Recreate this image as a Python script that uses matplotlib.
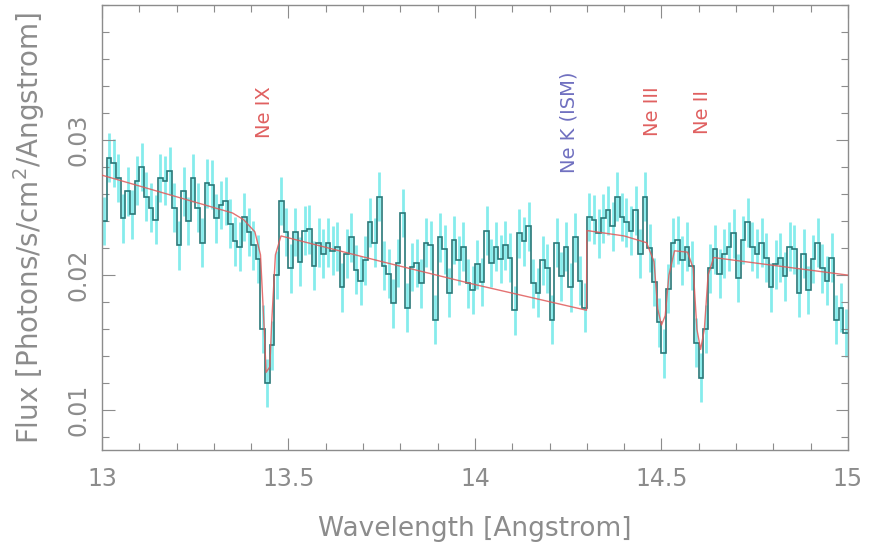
import numpy as np
import matplotlib as mpl
mpl.use('Agg')
import matplotlib.pyplot as plt
from matplotlib.ticker import MultipleLocator

# binned spectrum, 0.0125 A bins starting at 13.0 A
bin_lo = 13.0
bin_width = 0.0125
flux = [
    0.0240, 0.0287, 0.0283, 0.0272, 0.0242, 0.0262, 0.0245, 0.0270, 0.0280, 0.0258,
    0.0250, 0.0241, 0.0272, 0.0270, 0.0277, 0.0250, 0.0222, 0.0262, 0.0240, 0.0272,
    0.0250, 0.0224, 0.0268, 0.0267, 0.0242, 0.0252, 0.0255, 0.0238, 0.0225, 0.0221,
    0.0243, 0.0232, 0.0222, 0.0212, 0.0160, 0.0120, 0.0148, 0.0200, 0.0255, 0.0232,
    0.0205, 0.0232, 0.0210, 0.0233, 0.0234, 0.0207, 0.0224, 0.0216, 0.0224, 0.0218,
    0.0221, 0.0191, 0.0216, 0.0228, 0.0204, 0.0196, 0.0211, 0.0239, 0.0224, 0.0258,
    0.0207, 0.0201, 0.0179, 0.0209, 0.0246, 0.0176, 0.0206, 0.0209, 0.0194, 0.0224,
    0.0222, 0.0167, 0.0228, 0.0219, 0.0187, 0.0226, 0.0211, 0.0221, 0.0194, 0.0189,
    0.0208, 0.0195, 0.0233, 0.0209, 0.0221, 0.0212, 0.0222, 0.0213, 0.0174, 0.0231,
    0.0225, 0.0236, 0.0194, 0.0187, 0.0211, 0.0205, 0.0167, 0.0224, 0.0199, 0.0221,
    0.0191, 0.0228, 0.0196, 0.0176, 0.0243, 0.0241, 0.0231, 0.0242, 0.0248, 0.0236,
    0.0258, 0.0243, 0.0239, 0.0233, 0.0248, 0.0216, 0.0258, 0.0220, 0.0195, 0.0165,
    0.0142, 0.0190, 0.0224, 0.0226, 0.0211, 0.0221, 0.0207, 0.0150, 0.0124, 0.0160,
    0.0205, 0.0219, 0.0201, 0.0216, 0.0221, 0.0231, 0.0198, 0.0226, 0.0239, 0.0221,
    0.0216, 0.0224, 0.0213, 0.0191, 0.0208, 0.0213, 0.0199, 0.0221, 0.0219, 0.0187,
    0.0216, 0.0189, 0.0212, 0.0224, 0.0205, 0.0196, 0.0213, 0.0167, 0.0176, 0.0157,
]
flux_err = 0.0018

# model curve (continuum + edge + absorption lines)
model_wave = [13.00, 13.20, 13.35, 13.38, 13.41, 13.425, 13.435, 13.44, 13.45, 13.455,
              13.465, 13.48, 13.75, 14.00, 14.299, 14.30, 14.40, 14.46, 14.48, 14.49,
              14.50, 14.51, 14.52, 14.535, 14.57, 14.585, 14.595, 14.605, 14.615, 14.625,
              14.64, 15.00]
model_flux = [0.0274, 0.0258, 0.0246, 0.0241, 0.0232, 0.0215, 0.0160, 0.0128, 0.0132, 0.0165,
              0.0215, 0.0229, 0.0210, 0.0193, 0.0174, 0.0233, 0.0229, 0.0224, 0.0210, 0.0175,
              0.0163, 0.0170, 0.0200, 0.0218, 0.0217, 0.0205, 0.0160, 0.0145, 0.0160, 0.0200,
              0.0213, 0.0200]

line_labels = ["Ne IX", "Ne K (ISM)", "Ne III", "Ne II"]
line_pos = [13.435, 14.252, 14.475, 14.61]
line_ypos = [0.0321, 0.0313, 0.0321, 0.0321]
line_colors = ["#e06060", "#7070c0", "#e06060", "#e06060"]

flux = np.array(flux)
edges = bin_lo + bin_width * np.arange(len(flux) + 1)
centers = 0.5 * (edges[:-1] + edges[1:])

grey = "#8c8c8c"
plt.rcParams['font.family'] = ['DejaVu Sans']

fig = plt.figure(figsize=(8.76, 5.48), dpi=100)
ax = fig.add_axes([0.1164, 0.1788, 0.8516, 0.8121])

ax.errorbar(centers, flux, yerr=flux_err, fmt='none', ecolor="#5ee6e6",
            elinewidth=2.0, alpha=0.75, zorder=1)
ax.stairs(flux, edges, baseline=None, color="#2a7878", lw=1.2, zorder=2)
ax.plot(model_wave, model_flux, color="#e05a5a", lw=1.0, alpha=0.85, zorder=3)

for lab, xp, yp, c in zip(line_labels, line_pos, line_ypos, line_colors):
    ax.text(xp, yp, lab, rotation=90, color=c, fontsize=14,
            ha='center', va='center')

ax.set_xlim(13, 15)
ax.set_ylim(0.00705, 0.0400)
ax.xaxis.set_minor_locator(MultipleLocator(0.1))
ax.yaxis.set_minor_locator(MultipleLocator(0.002))
ax.set_xticks([13, 13.5, 14, 14.5, 15])
ax.set_xticklabels(["13", "13.5", "14", "14.5", "15"])
ax.set_yticks([0.01, 0.02, 0.03])
ax.set_yticklabels(["0.01", "0.02", "0.03"])

for s in ax.spines.values():
    s.set_color(grey)
    s.set_linewidth(1.0)
ax.tick_params(which='both', direction='in', top=True, right=True, colors=grey,
               labelcolor=grey, labelsize=17)
ax.tick_params(which='major', length=9, width=0.8)
ax.tick_params(which='minor', length=5, width=0.8)
ax.tick_params(axis='x', pad=12)
ax.tick_params(axis='y', pad=8)
for t in ax.get_yticklabels():
    t.set_rotation(90)
    t.set_va('center')

ax.set_xlabel("Wavelength [Angstrom]", color=grey, fontsize=19, labelpad=18)
ax.set_ylabel(r"Flux [Photons/s/cm$^2$/Angstrom]", color=grey, fontsize=20, labelpad=14)

plt.savefig("out.png", dpi=100)
